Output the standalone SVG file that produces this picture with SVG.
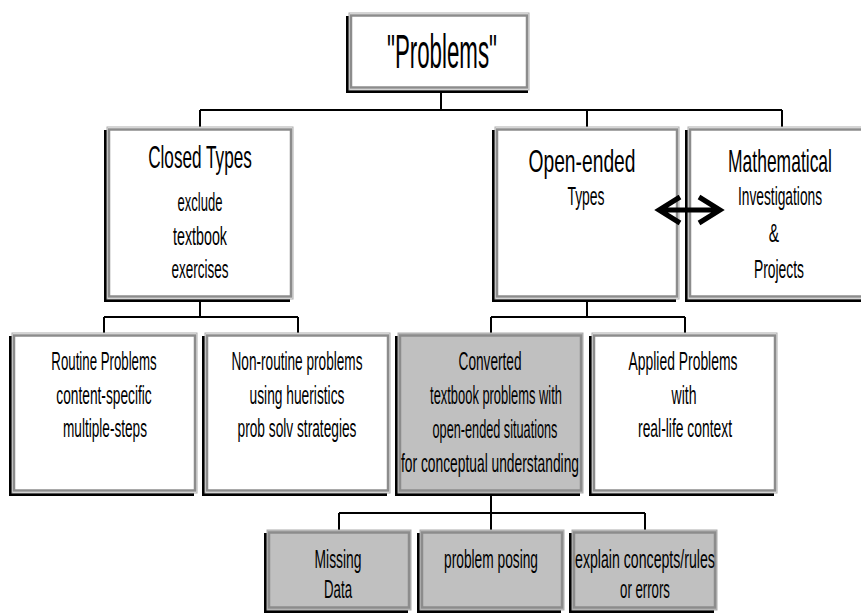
<svg xmlns="http://www.w3.org/2000/svg" width="861" height="616" viewBox="0 0 861 616">
<style>
.sh{fill:#000}
.bo{fill:#fff;stroke:#ababab;stroke-width:1}
.bg{fill:#c0c0c0;stroke:#ababab;stroke-width:1}
.bi{fill:none;stroke:#8c8c8c;stroke-width:2.5}
text{font-family:"Liberation Sans",Arial,sans-serif;fill:#000;text-anchor:middle}
.t1{font-size:31px}
.t2{font-size:25px}
.t3{font-size:26px}
.con{stroke:#000;stroke-width:2;fill:none}
.arr{stroke:#000;stroke-width:5;fill:none;stroke-linecap:butt;stroke-linejoin:miter}
</style>
<rect width="861" height="616" fill="#fff"/>
<g id="connectors">
<path class="con" d="M441,93 V110 M200,110 H782 M200,110 V127 M587,110 V127 M782,110 V127"/>
<path class="con" d="M200,302 V317 M104,317 H298 M104,317 V333 M298,317 V333"/>
<path class="con" d="M587,302 V317 M491,317 H685 M491,317 V333 M685,317 V333"/>
<path class="con" d="M491,496 V513 M339,513 H645 M339,513 V530 M491,513 V530 M645,513 V530"/>
</g>
<g id="problems">
<rect class="sh" x="346" y="16" width="182" height="77"/>
<rect class="bo" x="349" y="13" width="180" height="77"/>
<rect class="bi" x="351" y="15.5" width="176" height="72"/>
<text transform="translate(442,68) scale(0.455,1)" style="font-size:49px">"Problems"</text>
</g>
<g id="closed">
<rect class="sh" x="104" y="130" width="186" height="172"/>
<rect class="bo" x="107" y="127" width="186" height="172"/>
<rect class="bi" x="109" y="129.5" width="182" height="167"/>
<text class="t1" transform="translate(200,168) scale(0.554,1)">Closed Types</text>
<text class="t2" transform="translate(200,211) scale(0.522,1)">exclude</text>
<text class="t2" transform="translate(200,245) scale(0.571,1)">textbook</text>
<text class="t2" transform="translate(200,278) scale(0.54,1)">exercises</text>
</g>
<g id="open">
<rect class="sh" x="492" y="130" width="184" height="172"/>
<rect class="bo" x="495" y="127" width="184" height="172"/>
<rect class="bi" x="497" y="129.5" width="180" height="167"/>
<text class="t1" transform="translate(582,172) scale(0.621,1)">Open-ended</text>
<text class="t2" transform="translate(586,205) scale(0.558,1)">Types</text>
</g>
<g id="math">
<rect class="sh" x="685" y="130" width="186" height="172"/>
<rect class="bo" x="688" y="127" width="186" height="172"/>
<rect class="bi" x="690" y="129.5" width="182" height="167"/>
<text class="t1" transform="translate(780,172) scale(0.564,1)">Mathematical</text>
<text class="t2" transform="translate(780,205) scale(0.551,1)">Investigations</text>
<text class="t2" transform="translate(774,242) scale(0.62,1)">&amp;</text>
<text class="t2" transform="translate(779,278) scale(0.554,1)">Projects</text>
</g>
<g id="routine">
<rect class="sh" x="9" y="336" width="185" height="160"/>
<rect class="bo" x="12" y="333" width="185" height="160"/>
<rect class="bi" x="14" y="335.5" width="181" height="155"/>
<text class="t2" transform="translate(104,370) scale(0.53,1)">Routine Problems</text>
<text class="t2" transform="translate(104,404) scale(0.549,1)">content-specific</text>
<text class="t2" transform="translate(105,437) scale(0.545,1)">multiple-steps</text>
</g>
<g id="nonroutine">
<rect class="sh" x="202" y="336" width="185" height="160"/>
<rect class="bo" x="205" y="333" width="185" height="160"/>
<rect class="bi" x="207" y="335.5" width="181" height="155"/>
<text class="t2" transform="translate(297,370) scale(0.545,1)">Non-routine problems</text>
<text class="t2" transform="translate(297,404) scale(0.551,1)">using hueristics</text>
<text class="t2" transform="translate(297,437) scale(0.549,1)">prob solv strategies</text>
</g>
<g id="converted">
<rect class="sh" x="395" y="336" width="185" height="160"/>
<rect class="bg" x="398" y="333" width="185" height="160"/>
<rect class="bi" x="400" y="335.5" width="181" height="155"/>
<text class="t2" transform="translate(490,370) scale(0.546,1)">Converted</text>
<text class="t2" transform="translate(496,404) scale(0.516,1)">textbook problems with</text>
<text class="t2" transform="translate(495,438) scale(0.508,1)">open-ended situations</text>
<text class="t2" transform="translate(490,472) scale(0.552,1)">for conceptual understanding</text>
</g>
<g id="applied">
<rect class="sh" x="589" y="336" width="185" height="160"/>
<rect class="bo" x="592" y="333" width="185" height="160"/>
<rect class="bi" x="594" y="335.5" width="181" height="155"/>
<text class="t2" transform="translate(683,370) scale(0.556,1)">Applied Problems</text>
<text class="t2" transform="translate(684,404) scale(0.562,1)">with</text>
<text class="t2" transform="translate(685,437) scale(0.555,1)">real-life context</text>
</g>
<g id="missing">
<rect class="sh" x="264" y="533" width="144" height="80"/>
<rect class="bg" x="267" y="530" width="144" height="80"/>
<rect class="bi" x="269" y="532.5" width="140" height="75"/>
<text class="t3" transform="translate(338,568) scale(0.533,1)">Missing</text>
<text class="t3" transform="translate(338,598) scale(0.51,1)">Data</text>
</g>
<g id="posing">
<rect class="sh" x="417" y="533" width="144" height="80"/>
<rect class="bg" x="420" y="530" width="144" height="80"/>
<rect class="bi" x="422" y="532.5" width="140" height="75"/>
<text class="t3" transform="translate(491,568) scale(0.529,1)">problem posing</text>
</g>
<g id="explain">
<rect class="sh" x="569" y="533" width="145" height="80"/>
<rect class="bg" x="572" y="530" width="145" height="80"/>
<rect class="bi" x="574" y="532.5" width="141" height="75"/>
<text class="t2" transform="translate(645,568) scale(0.566,1)">explain concepts/rules</text>
<text class="t2" transform="translate(645,598) scale(0.529,1)">or errors</text>
</g>
<g id="link-arrow">
<path class="arr" d="M662,210 H717 M680,197 L659,210 L680,223 M699,197 L720,210 L699,223"/>
</g>
</svg>
